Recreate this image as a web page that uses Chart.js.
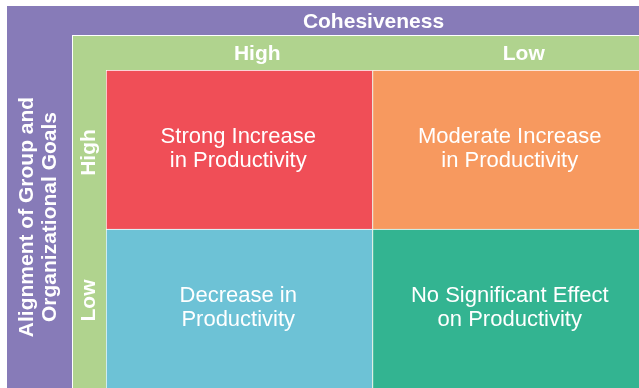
<!DOCTYPE html>
<html>
<head>
<meta charset="utf-8">
<script src="https://cdn.jsdelivr.net/npm/chart.js@4"></script>
<style>
  body { margin: 0; background: #ffffff; }
  canvas { display: block; }
</style>
</head>
<body>
<canvas id="matrix" width="639" height="388"></canvas>
<script>
// data
const cohesiveness = ["High", "Low"];
const alignment = ["High", "Low"];
const highAlignment = [1, 1];
const lowAlignment = [1, 1];
const highAlignmentText = [
  ["Strong Increase", "in Productivity"],
  ["Moderate Increase", "in Productivity"],
];
const lowAlignmentText = [
  ["Decrease in", "Productivity"],
  ["No Significant Effect", "on Productivity"],
];

const purple = "#877BB8";
const green = "#B0D38E";

// background bands + axis labels
const bands = {
  id: "bands",
  beforeDraw(chart) {
    const c = chart.ctx;
    const area = chart.chartArea;
    const x = chart.scales.x;
    const y = chart.scales.y;
    c.save();
    c.fillStyle = purple;
    c.fillRect(7, 6, chart.width - 7, chart.height - 6);
    c.fillStyle = "#ffffff";
    c.fillRect(72, 35, chart.width - 72, chart.height - 35);
    c.fillStyle = green;
    c.fillRect(73, 36, chart.width - 73, chart.height - 36);

    c.fillStyle = "#ffffff";
    c.textAlign = "center";
    c.textBaseline = "middle";
    c.font = "bold 21px 'Liberation Sans', Arial, sans-serif";
    c.fillText("Cohesiveness", (area.left + area.right) / 2 + 1, 22);
    cohesiveness.forEach((lab, i) => {
      c.fillText(lab, x.getPixelForValue(i) + 18, 54);
    });

    // rotated labels
    const mids = [y.getPixelForValue(1.5), y.getPixelForValue(0.5)];
    alignment.forEach((lab, i) => {
      c.save();
      c.translate(89, mids[i] + (i === 0 ? 3 : -8));
      c.rotate(-Math.PI / 2);
      c.fillText(lab, 0, 0);
      c.restore();
    });
    c.save();
    c.translate(38, 217);
    c.rotate(-Math.PI / 2);
    c.fillText("Alignment of Group and", 0, -11);
    c.fillText("Organizational Goals", 0, 12);
    c.restore();
    c.restore();
  },
};

// text inside cells
const cellText = {
  id: "cellText",
  afterDatasetsDraw(chart) {
    const c = chart.ctx;
    c.save();
    c.fillStyle = "#ffffff";
    c.textAlign = "center";
    c.textBaseline = "middle";
    c.font = "22px 'Liberation Sans', Arial, sans-serif";
    chart.data.datasets.forEach((ds, di) => {
      chart.getDatasetMeta(di).data.forEach((bar, i) => {
        const lines = ds.texts[i];
        const cx = bar.x + (i === 1 ? 4 : -1);
        const cy = (bar.y + bar.base) / 2 - 1;
        c.fillText(lines[0], cx, cy - 12);
        c.fillText(lines[1], cx, cy + 12);
      });
    });
    c.restore();
  },
};

new Chart(document.getElementById("matrix"), {
  type: "bar",
  data: {
    labels: cohesiveness,
    datasets: [
      {
        label: "Low",
        data: lowAlignment,
        texts: lowAlignmentText,
        backgroundColor: ["#6DC2D6", "#33B491"],
      },
      {
        label: "High",
        data: highAlignment,
        texts: highAlignmentText,
        backgroundColor: ["#F04E57", "#F7995F"],
      },
    ],
  },
  options: {
    responsive: false,
    animation: false,
    devicePixelRatio: 1,
    layout: { padding: { left: 106, top: 70, right: 0, bottom: 0 } },
    datasets: {
      bar: {
        barPercentage: 1,
        categoryPercentage: 1,
        borderColor: "#ffffff",
        borderWidth: { left: 1, top: 1, right: 0, bottom: 0 },
        borderSkipped: false,
      },
    },
    plugins: {
      legend: { display: false },
      tooltip: { enabled: false },
    },
    scales: {
      x: { stacked: true, display: false },
      y: { stacked: true, display: false, min: 0, max: 2 },
    },
  },
  plugins: [bands, cellText],
});
</script>
</body>
</html>
